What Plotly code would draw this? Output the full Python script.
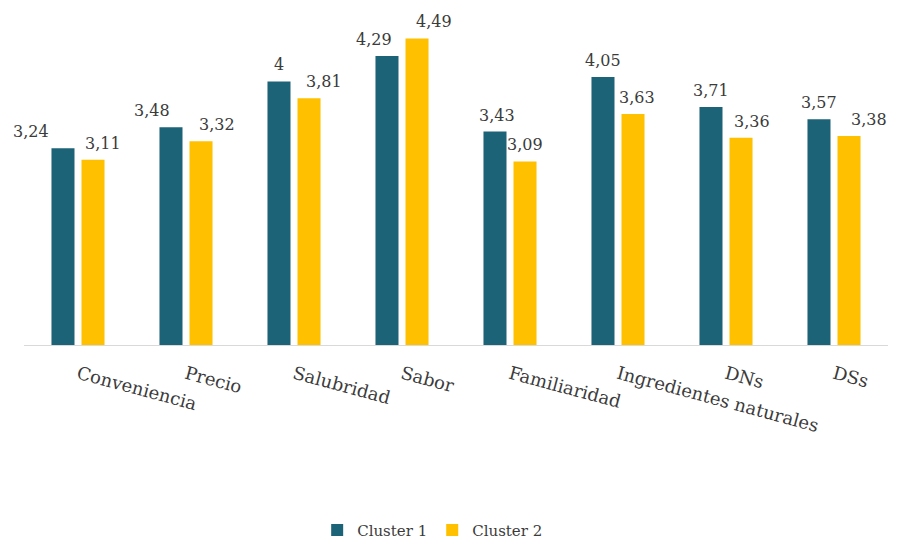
import plotly.graph_objects as go

# Average importance scores per attribute, by cluster
categories = ["Conveniencia", "Precio", "Salubridad", "Sabor", "Familiaridad",
              "Ingredientes naturales", "DNs", "DSs"]
cluster1 = [3.24, 3.48, 4.00, 4.29, 3.43, 4.05, 3.71, 3.57]
cluster2 = [3.11, 3.32, 3.81, 4.49, 3.09, 3.63, 3.36, 3.38]
series_names = ["Cluster 1", "Cluster 2"]

# Horizontal nudges (px) for the value labels so neighbouring labels don't collide
shift1 = [-32, -19, 0, -13, 2, 0, 0, 0]
shift2 = [10, 16, 15, 17, 0, 4, 11, 20]

COLORS = ["#1d6378", "#ffc000"]
FONT = "'DejaVu Serif', serif"
TXT = "#3b3b3b"


def fmt(v):
    s = f"{v:.2f}".rstrip("0").rstrip(".")
    return s.replace(".", ",")


fig = go.Figure()
for name, vals, col in zip(series_names, [cluster1, cluster2], COLORS):
    fig.add_trace(go.Bar(x=categories, y=vals, name=name, marker_color=col,
                         marker_line_width=0, offsetgroup=name))

annotations = []
for idx, (vals, shifts) in enumerate([(cluster1, shift1), (cluster2, shift2)]):
    for cat, v, sh in zip(categories, vals, shifts):
        annotations.append(dict(
            x=cat, y=v, xref="x", yref="y", text=fmt(v), showarrow=False,
            yanchor="bottom", xanchor="center", yshift=5,
            xshift=sh + (-15 if idx == 0 else 15),
            font=dict(family=FONT, size=16, color=TXT)))

fig.update_layout(
    width=897, height=544,
    margin=dict(l=24, r=9, t=20, b=199, autoexpand=False),
    paper_bgcolor="white", plot_bgcolor="white",
    barmode="group", bargap=0.444, bargroupgap=0.233,
    font=dict(family=FONT, size=16, color=TXT),
    showlegend=True,
    legend=dict(orientation="h", x=0.473, xanchor="center", y=-0.57, yanchor="middle",
                font=dict(family=FONT, size=15, color=TXT),
                traceorder="normal"),
    annotations=annotations,
)
fig.update_xaxes(showline=True, linecolor="#d9d9d9", linewidth=1, ticks="",
                 tickangle=15, ticklabelstandoff=11, automargin=False,
                 range=[-0.5, 7.5],
                 tickfont=dict(family=FONT, size=18, color=TXT))
fig.update_yaxes(range=[1, 4.7], visible=False, showgrid=False, zeroline=False,
                 automargin=False)

fig.write_html("out.html")
